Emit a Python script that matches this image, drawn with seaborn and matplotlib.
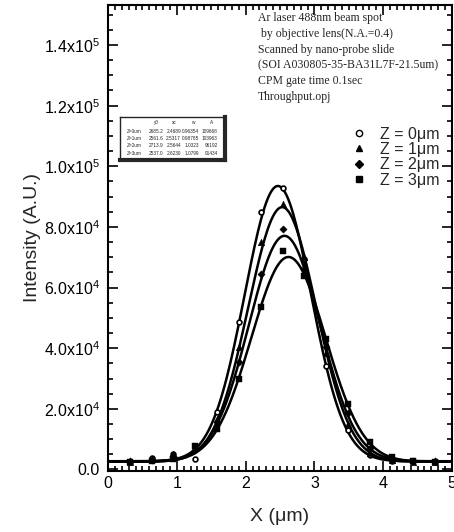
import numpy as np
import pandas as pd
import matplotlib
matplotlib.use('Agg')
import matplotlib.pyplot as plt
from matplotlib.ticker import MultipleLocator, FixedLocator
from matplotlib.lines import Line2D
import seaborn as sns

x_pos = [0.317, 0.634, 0.951, 1.268, 1.585, 1.902, 2.219, 2.536,
         2.853, 3.170, 3.487, 3.804, 4.121, 4.438, 4.755]
z0 = [2300, 3900, 5000, 3300, 19000, 48500, 85000, 93000,
      69500, 34000, 13000, 4800, 2900, 2700, 2600]
z1 = [2500, 3300, 5200, 7200, 16500, 40500, 75000, 87600,
      70000, 38500, 15000, 5500, 3000, 2600, 2500]
z2 = [2700, 3000, 4500, 6500, 15500, 35500, 64600, 79400,
      66000, 40500, 18500, 7000, 3500, 2800, 2700]
z3 = [2500, 2700, 3600, 7900, 13500, 30000, 53700, 72200,
      63800, 43000, 21500, 9000, 4000, 2700, 2600]

# Gauss fit parameters printed in the inset table
labels = ['Z = 0\u03bcm', 'Z = 1\u03bcm', 'Z = 2\u03bcm', 'Z = 3\u03bcm']
row_names = ['Z=0um', 'Z=1um', 'Z=2um', 'Z=3um']
fit_y0 = [2685.2, 2561.6, 2713.9, 2537.0]
fit_xc = [2.4689, 2.5317, 2.5644, 2.6230]
fit_w = [0.96354, 0.98785, 1.0323, 1.0799]
fit_A = [109668, 103963, 96192, 91434]

markers = ['o', '^', 'D', 's']
msizes = [12, 22, 14, 14]

notes = ['Ar laser 488nm beam spot',
         ' by objective lens(N.A.=0.4)',
         'Scanned by nano-probe slide',
         '(SOI A030805-35-BA31L7F-21.5um)',
         'CPM gate time 0.1sec',
         'Throughput.opj']

sns.set_style('ticks')
plt.rcParams['font.family'] = ['Liberation Sans', 'DejaVu Sans']
plt.rcParams['mathtext.fontset'] = 'custom'
plt.rcParams['mathtext.rm'] = 'Liberation Sans'

fig = plt.figure(figsize=(4.54, 5.32), dpi=100)
ax = fig.add_axes([0.238, 0.1147, 0.7576, 0.8759])

pts = pd.DataFrame({'x': x_pos * 4, 'y': z0 + z1 + z2 + z3,
                    'z': sum([[l] * len(x_pos) for l in labels], [])})
xs = np.linspace(0, 5, 400)
fits = []
for l, y0, xc, w, A in zip(labels, fit_y0, fit_xc, fit_w, fit_A):
    yy = y0 + A / (w * np.sqrt(np.pi / 2)) * np.exp(-2 * ((xs - xc) / w) ** 2)
    fits.append(pd.DataFrame({'x': xs, 'y': yy, 'z': l}))
fits = pd.concat(fits)

sns.lineplot(data=fits, x='x', y='y', units='z', estimator=None,
             color='black', lw=1.8, ax=ax, legend=False)
for l, m, s in zip(labels, markers, msizes):
    d = pts[pts.z == l]
    if m == 'o':
        ax.scatter(d.x, d.y, s=s, marker=m, facecolor='white',
                   edgecolor='black', lw=1.2, zorder=3)
    else:
        sns.scatterplot(data=d, x='x', y='y', marker=m, s=s, color='black',
                        edgecolor='black', ax=ax, legend=False, zorder=3)

ax.set_xlim(0, 5)
ax.set_ylim(-500, 153200)
ax.xaxis.set_major_locator(MultipleLocator(1))
ax.xaxis.set_minor_locator(MultipleLocator(0.1))
yt = [0, 20000, 40000, 60000, 80000, 100000, 120000, 140000]
ax.yaxis.set_major_locator(FixedLocator(yt))
ax.yaxis.set_minor_locator(MultipleLocator(5000))
ax.set_yticklabels(['0.0', r'2.0x10$^4$', r'4.0x10$^4$', r'6.0x10$^4$',
                    r'8.0x10$^4$', r'1.0x10$^5$', r'1.2x10$^5$', r'1.4x10$^5$'])
ax.tick_params(which='both', direction='in', top=True, right=True,
               width=1.2, labelsize=11.5, colors='black')
ax.tick_params(axis='y', pad=6)
ax.tick_params(which='major', length=7)
ax.tick_params(which='minor', length=3.5)
for sp in ax.spines.values():
    sp.set_linewidth(1.5)
    sp.set_color('black')
ax.set_xlabel('X (\u03bcm)', fontsize=14, labelpad=12)
ax.set_ylabel('Intensity (A.U.)', fontsize=14, labelpad=2)

# instrument notes
for i, t in enumerate(notes):
    ax.text(0.435, 0.985 - i * 0.034, t, transform=ax.transAxes,
            fontsize=8.5, family='Liberation Serif', va='top', ha='left')

# legend
handles = [Line2D([], [], ls='none', marker=m, color='black',
                  markerfacecolor='white' if m == 'o' else 'black',
                  markersize=4.5 if m != 'D' else 4) for m in markers]
ax.legend(handles, labels, loc='upper right', bbox_to_anchor=(1.005, 0.77),
          frameon=False, fontsize=11.5, handletextpad=0.7, labelspacing=0.02,
          handlelength=1.2)

# inset table of fit parameters
tb = ax.inset_axes([0.035, 0.667, 0.305, 0.093])
tb.set_xticks([])
tb.set_yticks([])
for sp in tb.spines.values():
    sp.set_linewidth(1.0)
tb.spines['right'].set_linewidth(3)
tb.spines['bottom'].set_linewidth(3)
cols = [0.06, 0.41, 0.58, 0.75, 0.93]
hdr = ['', 'y0', 'xc', 'w', 'A']
for c, h in zip(cols[1:], hdr[1:]):
    tb.text(c - 0.06, 0.86, h, fontsize=3.4, ha='center', va='center')
for r in range(4):
    vals = [row_names[r], f'{fit_y0[r]:.1f}', f'{fit_xc[r]:.4f}',
            f'{fit_w[r]:.5g}', f'{fit_A[r]}']
    for j, v in enumerate(vals):
        tb.text(cols[j], 0.67 - r * 0.17, v, fontsize=3.4,
                ha='left' if j == 0 else 'right', va='center')

fig.savefig('out.png', dpi=100)
